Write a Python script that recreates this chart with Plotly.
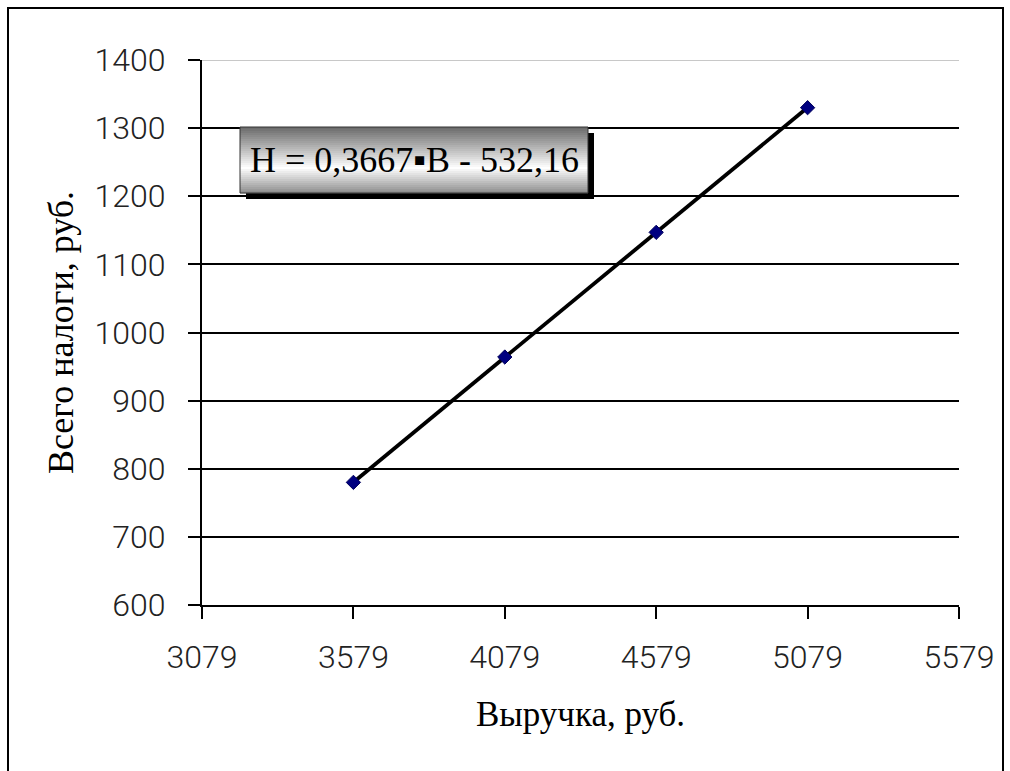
import numpy as np
import plotly.graph_objects as go

# ---- data ----
revenue = [3579, 4079, 4579, 5079]          # Выручка, руб.
taxes = [780, 964, 1147, 1330]              # Всего налоги, руб.
x_ticks = [3079, 3579, 4079, 4579, 5079, 5579]
y_ticks = [600, 700, 800, 900, 1000, 1100, 1200, 1300, 1400]
equation_text = "Н = 0,3667▪В - 532,16"
x_title = "Выручка, руб."
y_title = "Всего налоги, руб."

W, H = 1010, 771
# plot area in page pixels: x 202..959, y 60..605
ML, MT = 202, 60
MR = W - 959
MB = H - 605
PW, PH = W - ML - MR, H - MT - MB


def px(x):  # page pixel -> paper
    return (x - ML) / PW


def py(y):
    return (H - MB - y) / PH


# linear trend fitted to the data
k, b = np.polyfit(revenue, taxes, 1)
trend_x = [revenue[0], revenue[-1]]
trend_y = [k * v + b for v in trend_x]

tick_font = dict(family="Roboto, sans-serif", size=32, color="#222", weight=300)
serif = "Liberation Serif, Times New Roman, serif"

fig = go.Figure()
fig.add_trace(go.Scatter(x=trend_x, y=trend_y, mode="lines",
                         line=dict(color="black", width=3.8), hoverinfo="skip",
                         showlegend=False))
fig.add_trace(go.Scatter(x=revenue, y=taxes, mode="markers",
                         marker=dict(symbol="diamond", size=11, color="#000080",
                                     line=dict(color="#00005a", width=1)),
                         showlegend=False))

shapes = []
# outer border
shapes.append(dict(type="rect", xref="paper", yref="paper",
                   x0=px(8), x1=px(1003), y0=py(8), y1=py(790),
                   line=dict(color="black", width=2), fillcolor="rgba(0,0,0,0)"))
# lighter top gridline
shapes.append(dict(type="line", xref="paper", yref="y", x0=0, x1=1, y0=1400, y1=1400,
                   line=dict(color="#c8c8c8", width=2), layer="between"))

# equation box: shadow, gradient, border
bx0, bx1, by0, by1 = 240, 588, 127, 193
shapes.append(dict(type="rect", xref="paper", yref="paper",
                   x0=px(bx0 + 6), x1=px(bx1 + 6), y0=py(by0 + 6), y1=py(by1 + 6),
                   line=dict(width=0), fillcolor="black", layer="above"))
n = 33
for i in range(n):
    t = (i + 0.5) / n
    if t < 0.62:
        g = 105 + (255 - 105) * (t / 0.62)
    else:
        g = 255 - (255 - 140) * ((t - 0.62) / 0.38)
    g = int(round(g))
    ya = by0 + (by1 - by0) * i / n
    yb = by0 + (by1 - by0) * (i + 1) / n
    shapes.append(dict(type="rect", xref="paper", yref="paper",
                       x0=px(bx0), x1=px(bx1), y0=py(ya), y1=py(yb + 0.3),
                       line=dict(width=0), fillcolor=f"rgb({g},{g},{g})", layer="above"))
shapes.append(dict(type="rect", xref="paper", yref="paper",
                   x0=px(bx0), x1=px(bx1), y0=py(by0), y1=py(by1),
                   line=dict(color="#333", width=1), fillcolor="rgba(0,0,0,0)", layer="above"))

fig.update_layout(
    width=W, height=H,
    margin=dict(l=ML, r=MR, t=MT, b=MB),
    paper_bgcolor="white", plot_bgcolor="white",
    shapes=shapes,
    annotations=[dict(text=equation_text, xref="paper", yref="paper",
                      x=px((bx0 + bx1) / 2), y=py((by0 + by1) / 2),
                      xanchor="center", yanchor="middle", showarrow=False,
                      font=dict(family=serif, size=36, color="black"))],
    xaxis=dict(range=[3079, 5579], tickvals=x_ticks, ticktext=[str(v) for v in x_ticks],
               showgrid=False, zeroline=False, showline=True, linecolor="black", linewidth=2,
               ticks="outside", ticklen=12, tickwidth=2, tickcolor="black",
               tickfont=tick_font, ticklabelstandoff=11,
               title=dict(text=x_title, font=dict(family=serif, size=35, color="black"),
                          standoff=26)),
    yaxis=dict(range=[600, 1400], tickvals=y_ticks, ticktext=[str(v) for v in y_ticks],
               showgrid=True, gridcolor="black", gridwidth=1.5, zeroline=False,
               showline=True, linecolor="black", linewidth=2,
               ticks="outside", ticklen=12, tickwidth=2, tickcolor="black",
               tickfont=tick_font, ticklabelstandoff=16,
               title=dict(text=y_title, font=dict(family=serif, size=36, color="black"),
                          standoff=10)),
)

fig.write_html(
    "out.html",
    config={"displayModeBar": False},
    post_script="document.body.style.margin='0';document.body.style.overflow='hidden';",
)
